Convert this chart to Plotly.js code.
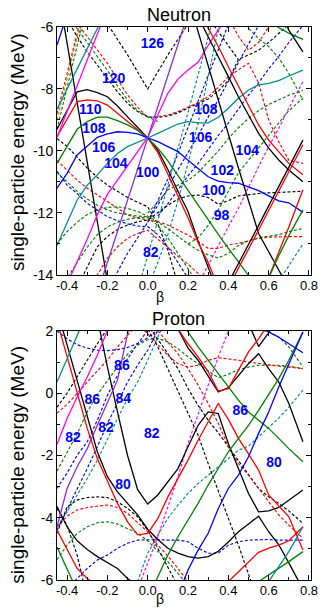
<!DOCTYPE html>
<html>
<head>
<meta charset="utf-8">
<script src="https://cdn.plot.ly/plotly-3.0.1.min.js"></script>
<style>html,body{margin:0;padding:0;background:#fff;}#chart{width:322px;height:608px;}</style>
</head>
<body>
<div id="chart"></div>
<script>
const _ = null;
// deformation grid (beta)
const beta = [-0.45,-0.4,-0.35,-0.3,-0.25, -0.2,-0.15,-0.1,-0.05,0, 0.05,0.1,0.15,0.2,0.25, 0.3,0.35,0.4,0.45,0.5, 0.55,0.6,0.65,0.7,0.77];

// ---------- Neutron levels (MeV), solid ----------
const n_blk_steep = [-4.6,-6.5,-8.42,-10.34,-12.27, -14.2,_,_,_,_, _,_,_,_,_, _,_,_,_,_, _,_,_,_,_];
const n_blk_main  = [-9.3,-8.68,-8.09,-8.02,-8.12, -8.25,-8.55,-8.9,-9.24,-9.58, -9.97,-10.6,-11.3,-11.95,-12.9, -13.8,-14.6,_,_,_, _,_,_,_,_];
const n_red_main  = [-9.54,-8.95,-8.41,-8.35,-8.38, -8.52,-8.79,-9.05,-9.32,-9.58, -10.05,-10.75,-11.45,-12.15,-12.95, -13.6,-14.4,_,_,_, _,_,_,_,_];
const n_grn_main  = [-10.4,-9.86,-9.3,-9.05,-8.91, -8.91,-9.02,-9.16,-9.34,-9.58, -9.91,-10.32,-10.8,-11.28,-11.75, -12.23,-12.69,-13.14,-13.57,-14.0, -14.45,_,_,_,_];
const n_blu_main  = [-11.2,-10.72,-10.13,-9.86,-9.56, -9.45,-9.38,-9.4,-9.45,-9.58, -9.7,-9.86,-10.02,-10.3,-10.56, -10.83,-10.97,-11.02,-11.04,-11.15, -11.28,-11.45,-11.61,-11.67,-11.98];
const n_teal_main = [-13.05,-12.33,-11.58,-11.1,-10.77, -10.4,-10.08,-9.86,-9.73,-9.58, -9.43,-9.27,-9.13,-9.05,-9.09, -9.09,-8.91,-8.62,-8.3,-8.03, -7.87,-7.82,-7.73,-7.58,-7.39];
const n_teal_up   = [-8.65,-8.0,-7.33,-6.69,-6.04, -5.4,_,_,_,_, _,_,_,_,_, _,_,_,_,_, _,_,_,_,_];
const n_mag_up    = [-9.56,-8.73,-7.9,-7.06,-6.24, -5.4,_,_,_,_, _,_,_,_,_, _,_,_,_,_, _,_,_,_,_];
const n_mag_mid   = [-15,-14.27,-13.57,-12.85,-12.06, -11.4,-10.94,-10.47,-10.02,-9.56, -8.84,-8.14,-7.68,-7.39,-7.14, -6.59,-6.1,-5.61,_,_, _,_,_,_,_];
const n_pur       = [_,_,_,_,-14.6, -13.6,-12.6,-11.6,-10.6,-9.58, -8.58,-7.57,-6.57,-5.56,_, _,_,_,_,_, _,_,_,_,_];
const n_blu_tl    = [-6.58,-5.6,_,_,_, _,_,_,_,_, _,_,_,_,_, _,_,_,_,_, _,_,_,_,_];
const n_blk_r1    = [_,_,_,_,_, _,_,_,_,_, _,_,_,-5.05,-6.17, -7.27,-8.35,-9.45,-10.55,-11.63, -12.66,-13.25,-13.84,-14.43,_];
const n_blk_r2    = [_,_,_,_,_, _,_,_,_,_, _,_,_,_,-5.67, -6.29,-6.96,-7.6,-8.25,-8.84, -9.43,-9.91,-10.29,-10.61,-10.99];
const n_red_r2    = [_,_,_,_,_, _,_,_,_,_, _,_,_,_,-5.45, -6.04,-6.63,-7.28,-7.92,-8.57, -9.16,-9.65,-10.02,-10.4,-10.77];
const n_red_rise  = [_,_,_,_,_, _,_,_,_,_, _,_,_,_,_, _,_,-14.4,-13.8,-13.17, -12.55,-11.92,-11.3,-10.67,-9.8];
const n_blk_rise  = [_,_,_,_,_, _,_,_,_,_, _,_,_,_,_, _,_,-14.25,-13.65,-13.02, -12.4,-11.77,-11.15,-10.52,-9.65];
const n_red_rise2 = [_,_,_,_,_, _,_,_,_,_, _,_,_,_,_, _,_,_,_,_, -14.9,-14.1,-13.25,-12.45,-11.25];
const n_grn_rise  = [_,_,_,_,_, _,_,_,_,_, _,_,_,_,_, _,_,_,_,_, -14.8,-14.07,-13.38,-12.73,-11.9];
const n_grn_tr    = [_,_,_,_,_, _,_,_,_,_, _,_,_,_,_, _,_,_,_,_, _,-5.8,-6.02,-6.2,-6.4];
const n_blk_tr    = [_,_,_,_,_, _,_,_,_,_, _,_,_,_,_, _,_,_,_,_, _,_,-5.4,-6.1,-6.8];

// ---------- Neutron levels, dashed ----------
const nd_blkV   = [_,_,_,_,-5.4, -5.9,-6.4,-6.9,-7.45,-8.0, -7.45,-6.9,-6.4,-5.9,-5.4, _,_,_,_,_, _,_,_,_,_];
const nd_redA   = [_,-5.45,-5.88,-6.33,-6.74, -7.17,-7.69,-8.19,-8.59,-8.91, -8.89,-8.84,-8.73,-8.59,-8.44, -8.25,-7.95,-7.6,-7.39,-7.17, -7.8,-9.0,-9.7,-10.3,-10.4];
const nd_blkA   = [-5.2,-5.77,-6.31,-6.8,-7.23, -7.66,-8.09,-8.46,-8.73,-8.9, -8.92,-8.87,-8.77,-8.62,-8.47, -8.32,-8.07,-7.72,-7.05,-6.9, -6.75,-6.5,-6.2,-5.9,-5.5];
const nd_blkChk = [_,_,_,_,_, _,_,_,_,_, _,_,_,_,_, -5.7,-6.15,-6.6,-7.05,_, _,_,_,_,_];
const nd_grnA   = [_,-5.6,-6.05,-6.5,-6.95, -7.4,-7.9,-8.35,-8.7,-8.9, -9.05,_,_,_,_, _,_,_,_,_, _,_,_,_,_];
const nd_grnG1  = [_,_,_,_,_, _,_,_,_,-12.0, -11.65,-11.25,-11.1,-10.95,-10.7, -10.35,-10.0,-9.6,-9.25,-8.95, -8.7,-8.5,-8.35,-8.2,-8.05];
const nd_grnG2  = [_,_,_,_,_, _,_,_,_,_, _,_,_,-13.0,-12.8, -12.4,-11.9,-11.3,-10.7,-10.3, -9.9,-9.5,-9.1,-8.7,-8.3];
const nd_grnG3  = [_,_,_,_,_, _,_,_,_,_, _,_,_,_,_, _,_,_,-5.7,-6.05, -6.38,-6.63,-7.0,-7.5,-8.35];
const nd_olive  = [-9.0,-7.6,-6.3,-5.0,_, _,_,_,_,_, _,_,_,_,_, _,_,_,_,_, _,_,_,_,_];
const nd_redUL  = [-8.8,-7.5,-6.2,-4.9,_, _,_,_,_,_, _,_,_,_,_, _,_,_,_,_, _,_,_,_,_];
const nd_grnUL  = [-9.3,-7.9,-6.6,-5.3,_, _,_,_,_,_, _,_,_,_,_, _,_,_,_,_, _,_,_,_,_];
const nd_redTR  = [_,_,_,_,_, _,_,_,_,_, _,_,_,_,_, _,_,-5.7,-6.3,-6.75, -6.5,-6.0,-5.6,_,_];
const nd_magR   = [_,_,_,_,_, _,_,_,_,_, _,_,_,_,-14.3, -13.68,-13.03,-12.44,-11.85,-11.15, -10.5,-9.86,-9.27,-8.62,-7.76];
const nd_bluL   = [-10.65,-11.1,-11.37,-11.69,-11.9, -12.12,-12.25,-12.35,-12.42,-12.44, -12.7,-13.1,-13.6,-14.1,_, _,_,_,_,_, _,_,_,_,_];
const nd_bluS   = [_,_,_,_,_, -14.5,-13.9,-13.3,-12.8,-12.3, -11.75,-11.2,-10.6,-10.05,-9.5, -8.9,-8.35,-7.75,-7.15,-6.55, -5.95,-5.35,_,_,_];
const nd_bluT   = [_,_,_,_,_, _,_,_,_,-12.3, -11.6,-10.9,-10.08,-9.22,-8.39, -7.56,-6.74,-5.9,-5.1,_, _,_,_,_,_];
const nd_bluR   = [_,_,_,_,_, _,_,_,_,_, -12.1,-11.7,-11.25,-10.8,-10.4, -9.95,-9.5,-9.1,-8.65,-8.2, -7.8,-7.35,-6.95,-6.5,-5.95];
const nd_tealA  = [_,_,_,_,_, _,_,_,-14.5,-13.4, -12.25,-11.1,-9.95,-8.75,-7.55, -6.3,-5.1,_,_,_, _,_,_,_,_];
const nd_tealB  = [_,_,_,_,_, _,_,_,_,-14.4, -13.6,-12.7,-11.6,-10.4,-9.1, -7.6,-6.0,-4.5,_,_, _,_,_,_,_];
const nd_tealBR = [_,_,_,_,_, _,_,_,_,_, _,_,_,_,_, _,_,_,_,_, _,_,-14.2,-13.7,-13.0];
const nd_blkK1  = [-9.6,-9.85,-10.2,-10.55,-10.85, -11.1,-11.3,-11.5,-11.65,-11.8, -12.35,-13.2,-14.3,_,_, _,_,_,_,_, _,_,_,_,_];
const nd_redK2  = [-10.3,-10.63,-10.94,-11.2,-11.42, -11.63,-11.85,-12.06,-12.17,-12.23, -12.28,-12.39,-12.55,-12.71,-12.92, -13.14,-13.14,-13.03,-12.98,-12.89, -12.82,-12.78,-12.76,-12.76,-12.76];
const nd_grnK3  = [-13.0,-12.6,-12.3,-12.05,-11.9, -11.82,-11.8,-11.85,-11.95,-12.1, -12.3,-12.5,-12.75,-13.0,-13.2, -13.35,-13.45,-13.3,-13.05,-12.9, -12.8,-12.75,-12.7,-12.6,-12.5];
const nd_blkK5  = [_,_,-14.4,-13.73,-13.09, -12.76,-12.53,-12.39,-12.28,-12.23, -12.0,-11.75,-11.55,-11.45,-11.42, -11.5,-11.72,-11.6,-11.45,-11.4, -11.37,-11.35,-11.33,-11.32,-11.3];
const nd_redK6  = [_,_,_,-14.6,-14.0, -13.46,-13.09,-12.82,-12.66,-12.55, -12.85,-13.1,-13.4,-13.65,-13.95, -14.3,_,_,_,_, _,_,_,_,_];
const nd_grnK7  = [-14.6,-14.1,-13.6,-13.1,-12.7, -12.45,-12.3,-12.2,-12.15,-12.15, -12.4,-12.8,-13.3,-13.8,-14.3, _,_,_,_,_, _,_,_,_,_];
const nd_grnK8  = [-10.7,-11.0,-11.3,-11.55,-11.75, -11.9,-12.0,-12.05,-12.1,-12.12, _,_,_,_,_, _,_,_,_,_, _,_,_,_,_];

// ---------- Proton levels (MeV), solid ----------
const p_blk_V    = [_,_,_,4.0,2.4, 0.85,-0.6,-2.0,-3.1,-3.56, -3.27,-2.84,-2.42,-1.72,-1.03, -0.6,-0.65,-1.62,-2.42,-3.22, -3.81,-3.78,-3.67,-3.43,-3.11];
const p_blk_dn   = [-3.64,-4.29,-4.74,-5.02,-5.25, -5.44,-5.63,-5.95,-6.2,_, _,_,_,_,_, _,_,_,_,_, _,_,_,_,_];
const p_blk_lo   = [2.7,1.56,0.42,-0.76,-1.88, -2.68,-3.17,-3.54,-3.91,-4.37, -4.7,-4.98,-5.14,-5.25,-5.3, -5.25,-5.08,-4.78,-4.45,-4.2, -3.95,-4.45,-4.87,-5.45,-6.3];
const p_blk_tr   = [_,_,_,_,_, _,_,_,_,_, _,2.6,2.07,1.45,1.06, 0.55,0.04,0.18,0.56,0.95, 1.27,0.79,0.36,-0.33,-1.56];
const p_blk_V2   = [_,_,_,_,_, _,_,_,_,_, _,_,_,_,_, _,_,_,_,2.25, 1.5,1.95,2.4,_,_];
const p_red_1    = [2.33,1.17,0.02,-1.13,-2.1, -2.85,-3.54,-4.13,-4.55,-4.5, -4.03,-3.33,-2.74,-2.15,-1.51, -0.92,-0.33,-0.84,-1.45,-1.95, -2.47,-3.27,-3.62,-3.97,-5.04];
const p_red_2    = [_,_,_,_,_, _,_,_,_,_, _,2.6,2.07,1.59,1.17, 0.69,0.07,0.15,0.74,1.33, 1.75,2.24,_,_,_];
const p_red_3    = [-4.4,-5.04,-5.63,-5.95,-6.2, _,_,_,_,_, _,_,_,_,_, _,_,_,_,_, _,_,_,_,_];
const p_red_4    = [_,_,_,_,_, _,_,_,_,_, _,_,_,_,_, _,_,-6.05,-5.73,-5.41, -5.11,-4.98,-4.88,-4.74,-4.29];
const p_grn_rise = [_,_,_,_,_, _,_,_,_,-6.6, -5.89,-5.2,-4.61,-4.07,-3.54, -2.95,-2.42,-1.88,-1.45,-1.03, -0.55,-0.06,0.47,1.06,1.97];
const p_grn_desc = [_,_,_,_,_, _,_,_,_,_, _,_,2.4,1.97,1.49, 1.06,0.63,0.2,-0.22,-0.6, -0.86,-1.13,-1.45,-1.78,-2.2];
const p_grn_br   = [_,_,_,_,_, _,_,_,_,_, _,_,_,_,_, _,_,_,_,_, -6.05,-5.84,-5.63,-5.41,-5.09];
const p_grn_bl   = [-4.94,-5.65,-6.35,_,_, _,_,_,_,_, _,_,_,_,_, _,_,_,_,_, _,_,_,_,_];
const p_teal_tl  = [0.36,1.1,1.85,2.6,_, _,_,_,_,_, _,_,_,_,_, _,_,_,_,_, _,_,_,_,_];
const p_teal_br  = [_,_,_,_,_, _,_,_,_,_, _,_,_,_,_, _,_,_,_,_, _,-6.05,-5.57,-5.09,-4.29];
const p_blu_rise = [_,_,_,_,_, _,_,_,_,_, _,_,-6.5,-5.68,-5.04, -4.5,-3.7,-3.06,-2.63,-2.04, -1.29,-0.6,0.2,0.95,1.97];
const p_blu_tr   = [_,_,_,_,_, _,_,_,_,_, _,_,_,_,_, _,_,_,_,_, 2.1,1.97,1.8,1.6,1.3];
const p_mag_l    = [-1.65,-0.81,-0.12,0.52,1.22, 2.02,2.8,_,_,_, _,_,_,_,_, _,_,_,_,_, _,_,_,_,_];
const p_pur_l    = [-4.29,-3.06,-2.36,-1.78,-1.03, -0.28,0.42,1.91,3.3,_, _,_,_,_,_, _,_,_,_,_, _,_,_,_,_];

// ---------- Proton levels, dashed ----------
const pd_blu_arc  = [2.0,1.75,1.56,1.45,1.38, 1.37,1.4,1.47,1.6,1.78, 2.05,_,_,_,_, _,_,_,_,_, _,_,_,_,_];
const pd_blu_a    = [-3.06,-2.56,-1.99,-1.56,-0.87, -0.07,0.58,1.11,1.59,2.02, 2.45,_,_,_,_, _,_,_,_,_, _,_,_,_,_];
const pd_blu_b    = [-4.4,-3.75,-3.11,-2.42,-1.72, -0.97,-0.33,0.36,0.9,1.38, 2.02,2.6,_,_,_, _,_,_,_,_, _,_,_,_,_];
const pd_blu_lo   = [-6.6,-6.27,-5.95,-5.63,-5.36, -5.2,-4.98,-4.82,-4.72,-4.7, -4.7,-4.72,-4.72,-4.77,-4.98, -5.14,-5.14,-4.88,-4.77,-4.72, -4.7,-4.7,-4.72,-4.72,-4.72];
const pd_teal_a   = [-4.29,-3.81,-3.27,-2.74,-2.15, -1.51,-0.82,-0.17,0.36,1.06, 1.81,2.45,_,_,_, _,_,_,_,_, _,_,_,_,_];
const pd_teal_b   = [_,_,_,_,_, _,_,_,-6.05,-5.14, -4.56,-4.02,-3.59,-3.22,-2.9, -2.63,-2.36,-2.1,-1.83,-1.7, -1.4,-1.1,-0.8,-0.45,0.1];
const pd_grn_up   = [-2.5,-1.9,-1.3,-0.6,-0.05, 0.4,0.85,1.25,1.55,1.72, 1.76,1.65,1.43,1.17,0.95, 0.74,0.5,0.61,0.76,0.84, 0.9,0.9,0.9,0.87,0.79];
const pd_grn_tr   = [_,_,_,_,_, _,_,_,_,_, _,_,_,_,_, _,_,_,_,_, 2.07,1.97,1.81,1.49,0.84];
const pd_grn_lo   = [-5.35,-4.88,-4.5,-4.29,-4.16, -4.13,-4.2,-4.34,-4.5,-4.74, -5.06,-5.41,-5.79,-6.17,_, _,_,_,_,_, _,_,_,_,_];
const pd_red_ul   = [-0.64,-0.36,-0.01,0.36,0.72, 1.06,1.49,1.86,2.24,_, _,_,_,_,_, _,_,_,_,_, _,_,_,_,_];
const pd_blk_ul   = [-0.45,0.0,0.53,1.06,1.59, 2.07,_,_,_,_, _,_,_,_,_, _,_,_,_,_, _,_,_,_,_];
const pd_red_top  = [_,_,_,_,_, _,_,_,2.25,1.91, 1.59,1.22,0.95,0.84,0.9, 1.06,1.14,1.11,1.06,1.0, 0.95,0.9,0.87,0.84,0.79];
const pd_red_lo   = [-4.3,-3.95,-3.75,-3.67,-3.63, -3.59,-3.67,-3.86,-4.16,-4.45, -4.88,-5.23,-5.63,-6.05,_, _,_,_,_,_, _,_,_,_,_];
const pd_blk_lo   = [-4.5,-3.65,-3.43,-3.35,-3.33, -3.35,-3.49,-3.7,-3.97,-4.4, -4.98,-5.57,-6.2,_,_, _,_,_,_,_, _,_,_,_,_];
const pd_blk_st   = [-3.7,-4.25,-5.2,-6.6,_, _,_,_,_,_, _,_,_,_,_, _,_,_,_,_, _,_,_,_,_];
const pd_blk_diag = [_,_,_,_,_, _,_,_,2.6,2.07, 1.49,0.79,0.1,-0.6,-1.35, -2.26,-3.11,-4.02,-4.88,-5.84, -6.75,_,_,_,_];
const pd_blk_r    = [_,_,_,_,_, _,_,_,_,2.2, 1.75,1.27,0.79,0.15,-0.39, -0.87,-1.27,-1.72,-2.17,-2.63, -3.06,-3.33,-3.54,-3.78,-4.18];
const pd_red_r    = [_,_,_,_,_, _,_,_,_,_, 2.0,1.64,1.27,0.79,0.26, -0.33,-0.97,-1.72,-2.26,-2.63, -3.06,-3.49,-3.91,-4.24,-4.66];
const pd_mag      = [_,_,_,_,_, _,_,_,-6.3,-5.47, -4.61,-3.65,-2.68,-1.61,-0.65, 0.26,1.17,1.97,2.8,_, _,_,_,_,_];

// ---------- Shell-gap labels ----------
const n_lab_txt = ['126','120','110','108','106','104','100','82','108','106','104','102','100','98'];
const n_lab_b   = [0.023,-0.169,-0.285,-0.267,-0.219,-0.158,0.0,0.015,0.289,0.262,0.494,0.37,0.328,0.366];
const n_lab_e   = [-6.58,-7.71,-8.68,-9.32,-9.91,-10.45,-10.72,-13.3,-8.68,-9.59,-10.02,-10.65,-11.31,-12.12];
const p_lab_txt = ['86','86','84','82','82','82','80','86','80'];
const p_lab_b   = [-0.128,-0.275,-0.121,-0.37,-0.207,0.02,-0.123,0.459,0.627];
const p_lab_e   = [0.845,-0.225,-0.19,-1.45,-1.13,-1.33,-2.95,-0.6,-2.26];

const xTickVals = [-0.4,-0.2,0,0.2,0.4,0.6,0.8];
const xTickText = ['-0.4','-0.2','0.0','0.2','0.4','0.6','0.8'];
const nTickVals = [-14,-12,-10,-8,-6];
const nTickText = ['-14','-12','-10','-8','-6'];
const pTickVals = [-6,-4,-2,0,2];
const pTickText = ['-6','-4','-2','0','2'];

// ---------- styling ----------
const C = {k:'#000000', r:'#ff0000', g:'#008000', b:'#0000ff', t:'#008b8b', m:'#ff00ff', p:'#8a2be2', o:'#a0a000'};

const nSolid = [[n_blk_steep,C.k],[n_blk_main,C.k],[n_red_main,C.r],[n_grn_main,C.g],[n_blu_main,C.b],[n_teal_main,C.t],
  [n_teal_up,C.t],[n_mag_up,C.m],[n_mag_mid,C.m],[n_pur,C.p],[n_blu_tl,C.b],[n_blk_r1,C.k],[n_blk_r2,C.k],[n_red_r2,C.r],
  [n_red_rise,C.r],[n_blk_rise,C.k],[n_red_rise2,C.r],[n_grn_rise,C.g],[n_grn_tr,C.g],[n_blk_tr,C.k]];
const nDash = [[nd_blkV,C.k],[nd_redA,C.r],[nd_blkA,C.k],[nd_blkChk,C.k],[nd_grnA,C.g],[nd_grnG1,C.g],[nd_grnG2,C.g],[nd_grnG3,C.g],
  [nd_olive,C.o],[nd_redUL,C.r],[nd_grnUL,C.g],[nd_redTR,C.r],[nd_magR,C.m],[nd_bluL,C.b],[nd_bluS,C.b],[nd_bluT,C.b],[nd_bluR,C.b],
  [nd_tealA,C.t],[nd_tealB,C.t],[nd_tealBR,C.t],[nd_blkK1,C.k],[nd_redK2,C.r],[nd_grnK3,C.g],[nd_blkK5,C.k],[nd_redK6,C.r],[nd_grnK7,C.g],[nd_grnK8,C.g]];
const pSolid = [[p_blk_V,C.k],[p_blk_dn,C.k],[p_blk_lo,C.k],[p_blk_tr,C.k],[p_blk_V2,C.k],[p_red_1,C.r],[p_red_2,C.r],[p_red_3,C.r],[p_red_4,C.r],
  [p_grn_rise,C.g],[p_grn_desc,C.g],[p_grn_br,C.g],[p_grn_bl,C.g],[p_teal_tl,C.t],[p_teal_br,C.t],[p_blu_rise,C.b],[p_blu_tr,C.b],[p_mag_l,C.m],[p_pur_l,C.p]];
const pDash = [[pd_blu_arc,C.b],[pd_blu_a,C.b],[pd_blu_b,C.b],[pd_blu_lo,C.b],[pd_teal_a,C.t],[pd_teal_b,C.t],[pd_grn_up,C.g],[pd_grn_tr,C.g],[pd_grn_lo,C.g],
  [pd_red_ul,C.r],[pd_blk_ul,C.k],[pd_red_top,C.r],[pd_red_lo,C.r],[pd_blk_lo,C.k],[pd_blk_st,C.k],[pd_blk_diag,C.k],[pd_blk_r,C.k],[pd_red_r,C.r],[pd_mag,C.m]];

const traces = [];
function addLines(list, xa, ya, dashed){
  list.forEach(function(item){
    traces.push({x: beta, y: item[0], xaxis: xa, yaxis: ya, type:'scatter', mode:'lines',
      line:{color:item[1], width: dashed ? 1.15 : 1.3, dash: dashed ? '3px,2px' : 'solid'},
      connectgaps:false, hoverinfo:'skip', showlegend:false});
  });
}
addLines(nDash,'x','y',true);
addLines(nSolid,'x','y',false);
addLines(pDash,'x2','y2',true);
addLines(pSolid,'x2','y2',false);
const labFont = {family:'Arial, Liberation Sans, sans-serif', size:14, color:'#0000ff', weight:'bold'};
traces.push({x:n_lab_b, y:n_lab_e, text:n_lab_txt, mode:'text', type:'scatter', xaxis:'x', yaxis:'y', textfont:labFont, cliponaxis:false, hoverinfo:'skip', showlegend:false});
traces.push({x:p_lab_b, y:p_lab_e, text:p_lab_txt, mode:'text', type:'scatter', xaxis:'x2', yaxis:'y2', textfont:labFont, cliponaxis:false, hoverinfo:'skip', showlegend:false});

const FONT = 'Arial, Liberation Sans, sans-serif';
function xAxis(anchor){
  return {domain:[0,1], anchor:anchor, range:[-0.45,0.81], showline:true, mirror:'ticks', linecolor:'#000', linewidth:1,
    ticks:'inside', ticklen:5, tickcolor:'#000', tickvals:xTickVals, ticktext:xTickText, ticklabelstandoff:-2,
    tickfont:{family:FONT, size:13, color:'#000'}, showgrid:false, zeroline:false, fixedrange:true,
    minor:{tickmode:'linear', tick0:0, dtick:0.1, ticks:'inside', ticklen:3, tickcolor:'#000', showgrid:false}};
}
function yAxis(anchor, dom, rng, tv, tt){
  return {domain:dom, anchor:anchor, range:rng, showline:true, mirror:'ticks', linecolor:'#000', linewidth:1,
    ticks:'inside', ticklen:5, tickcolor:'#000', tickvals:tv, ticktext:tt,
    tickfont:{family:FONT, size:14, color:'#000'}, showgrid:false, zeroline:false, fixedrange:true,
    minor:{tickmode:'linear', tick0:0, dtick:1, ticks:'inside', ticklen:3, tickcolor:'#000', showgrid:false}};
}
const layout = {
  width:322, height:608, margin:{l:57, r:11, t:0, b:0}, paper_bgcolor:'#fff', plot_bgcolor:'#fff', showlegend:false,
  xaxis: xAxis('y'), yaxis: yAxis('x',[0.5477,0.9556],[-14,-6],nTickVals,nTickText),
  xaxis2: xAxis('y2'), yaxis2: yAxis('x2',[0.0461,0.4556],[-6,2],pTickVals,pTickText),
  annotations:[
    {text:'Neutron', xref:'paper', yref:'paper', x:0.48, y:0.9753, xanchor:'center', yanchor:'middle', showarrow:false, font:{family:FONT, size:18, color:'#000'}},
    {text:'Proton', xref:'paper', yref:'paper', x:0.48, y:0.4753, xanchor:'center', yanchor:'middle', showarrow:false, font:{family:FONT, size:18, color:'#000'}},
    {text:'β', xref:'paper', yref:'paper', x:0.405, y:0.5115, xanchor:'center', yanchor:'middle', showarrow:false, font:{family:FONT, size:14, color:'#000'}},
    {text:'β', xref:'paper', yref:'paper', x:0.405, y:0.0148, xanchor:'center', yanchor:'middle', showarrow:false, font:{family:FONT, size:14, color:'#000'}},
    {text:'single-particle energy (MeV)', xref:'paper', yref:'paper', x:-0.157, y:0.75, textangle:-90, xanchor:'center', yanchor:'middle', showarrow:false, font:{family:FONT, size:19, color:'#000'}},
    {text:'single-particle energy (MeV)', xref:'paper', yref:'paper', x:-0.157, y:0.236, textangle:-90, xanchor:'center', yanchor:'middle', showarrow:false, font:{family:FONT, size:19, color:'#000'}}
  ]
};
Plotly.newPlot('chart', traces, layout, {staticPlot:true, displayModeBar:false});
</script>
</body>
</html>
